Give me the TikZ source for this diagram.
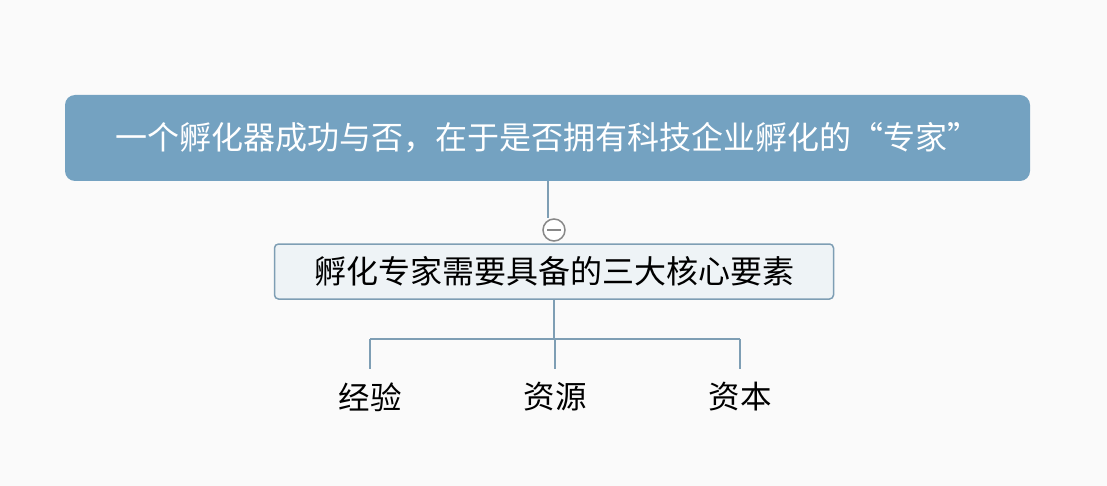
\documentclass[tikz,border=0pt]{standalone}
\usepackage{fontspec}
\setmainfont{Noto Sans CJK SC}
\definecolor{bggray}{HTML}{FAFAFA}
\definecolor{rootblue}{HTML}{74A2C1}
\definecolor{corefill}{HTML}{EEF3F6}
\definecolor{linkblue}{HTML}{7E9EB4}
\definecolor{foldgray}{HTML}{888888}
\def \busy {339}
\def \leafy {397}
\tikzstyle{topic}=[rectangle, rounded corners=10pt, fill=rootblue, text=white, minimum width=965pt, minimum height=86pt, inner sep=0pt, font=\fontsize{32}{32}\selectfont]
\tikzstyle{subtopic}=[rectangle, rounded corners=4pt, draw=linkblue, line width=1.5pt, fill=corefill, minimum width=559pt, minimum height=55pt, inner sep=0pt, font=\fontsize{32}{32}\selectfont]
\tikzstyle{leaf}=[minimum height=56pt, inner sep=0pt, font=\fontsize{31.5}{31.5}\selectfont]
\tikzstyle{link}=[draw=linkblue, line width=2pt]
\tikzstyle{fold}=[circle, draw=foldgray, fill=white, line width=1.5pt, minimum size=22pt, inner sep=0pt]

\begin{document}
\begin{tikzpicture}[x=1pt, y=-1pt]

\fill[bggray] (0,0) rectangle (1107,486);

\node[topic] (root) at (547.5,138) {一个孵化器成功与否，在于是否拥有科技企业孵化的“专家”};
\node[fold] (fold) at (554,230) {};
\node[subtopic] (core) at (554,271.5) {孵化专家需要具备的三大核心要素};

\foreach \name/\x/\txt in {exp/370/经验, src/555/资源, fund/740/资本}
    \node[leaf] (\name) at (\x, \leafy) {\txt};

\draw[link] (root.south) -- (root.south |- fold.north);
\draw[foldgray, line width=1.5pt] ([xshift=-7pt]fold.center) -- ([xshift=7pt]fold.center);

\draw[link] (core.south) -- (core.south |- 0,\busy);
\draw[link] (exp.north |- 0,\busy) -- (fund.north |- 0,\busy);
\foreach \name in {exp, src, fund}
    \draw[link] (\name.north |- 0,\busy) -- (\name.north);

\end{tikzpicture}
\end{document}
